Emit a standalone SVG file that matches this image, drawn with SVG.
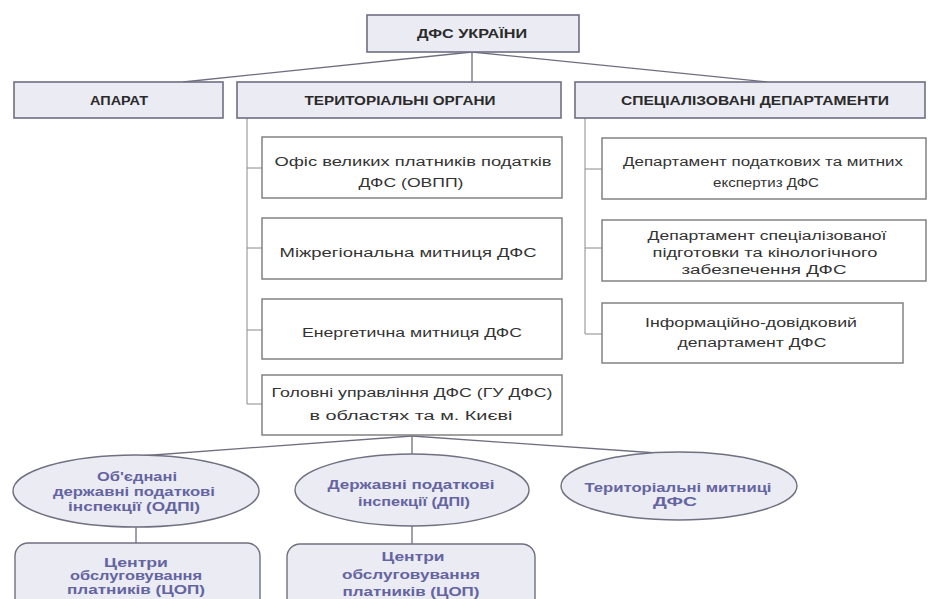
<svg xmlns="http://www.w3.org/2000/svg" width="928" height="599" viewBox="0 0 928 599">
<style>
text{font-family:"Liberation Sans",Arial,sans-serif;text-anchor:middle;}
.hd rect{fill:#ebebf3;stroke:#6e6e82;stroke-width:1.6;}
.hd text{font-size:12px;font-weight:bold;fill:#2a2a2a;}
.bx rect{fill:#ffffff;stroke:#7a7a7a;stroke-width:1.4;}
.bx text{font-size:12.5px;fill:#333333;}
.el ellipse,.el rect{fill:#ebebf3;stroke:#707080;stroke-width:1.4;}
.el text{font-size:12px;font-weight:bold;fill:#6464a0;}
.cn line{stroke:#6e6e80;stroke-width:1.3;}
.cn .tk{stroke:#8a8a8a;stroke-width:1;}
</style>
<g id="connectors" class="cn">
<line x1="472" y1="52" x2="183" y2="82"/>
<line x1="472" y1="52" x2="472" y2="82"/>
<line x1="472" y1="52" x2="767" y2="82"/>
<line class="tk" x1="247" y1="118" x2="247" y2="404"/>
<line class="tk" x1="247" y1="168" x2="262" y2="168"/>
<line class="tk" x1="247" y1="248" x2="262" y2="248"/>
<line class="tk" x1="247" y1="330" x2="262" y2="330"/>
<line class="tk" x1="247" y1="404" x2="262" y2="404"/>
<line class="tk" x1="585" y1="118" x2="585" y2="334"/>
<line class="tk" x1="585" y1="169" x2="602" y2="169"/>
<line class="tk" x1="585" y1="248" x2="602" y2="248"/>
<line class="tk" x1="585" y1="334" x2="602" y2="334"/>
<line x1="412" y1="436" x2="140" y2="456"/>
<line x1="412" y1="436" x2="412" y2="455"/>
<line x1="412" y1="436" x2="657" y2="453"/>
<line x1="136" y1="527" x2="136" y2="543"/>
<line x1="412" y1="526" x2="412" y2="544"/>
</g>
<g id="n-dfs" class="hd"><rect x="367" y="15" width="212" height="37"/><text x="472" y="38" textLength="110" lengthAdjust="spacingAndGlyphs">ДФС УКРАЇНИ</text></g>
<g id="n-aparat" class="hd"><rect x="14" y="82" width="209" height="36"/><text x="119" y="105" textLength="58" lengthAdjust="spacingAndGlyphs">АПАРАТ</text></g>
<g id="n-terr" class="hd"><rect x="237" y="82" width="324" height="36"/><text x="400" y="105" textLength="191" lengthAdjust="spacingAndGlyphs">ТЕРИТОРІАЛЬНІ ОРГАНИ</text></g>
<g id="n-spec" class="hd"><rect x="575" y="82" width="350" height="36"/><text x="755" y="105" textLength="268" lengthAdjust="spacingAndGlyphs">СПЕЦІАЛІЗОВАНІ ДЕПАРТАМЕНТИ</text></g>

<g id="n-ovpp" class="bx"><rect x="262" y="137" width="300" height="61"/><text x="413" y="166" textLength="277" lengthAdjust="spacingAndGlyphs">Офіс великих платників податків</text><text x="411" y="187" textLength="105" lengthAdjust="spacingAndGlyphs">ДФС (ОВПП)</text></g>
<g id="n-mizh" class="bx"><rect x="262" y="218" width="300" height="61"/><text x="408" y="257" textLength="257" lengthAdjust="spacingAndGlyphs">Міжрегіональна митниця ДФС</text></g>
<g id="n-energ" class="bx"><rect x="262" y="299" width="300" height="60"/><text x="412" y="337" textLength="220" lengthAdjust="spacingAndGlyphs">Енергетична митниця ДФС</text></g>
<g id="n-gu" class="bx"><rect x="262" y="375" width="300" height="60"/><text x="412" y="397" textLength="281" lengthAdjust="spacingAndGlyphs">Головні управління ДФС (ГУ ДФС)</text><text x="411" y="420" textLength="203" lengthAdjust="spacingAndGlyphs">в областях та м. Києві</text></g>

<g id="n-exp" class="bx"><rect x="602" y="138" width="324" height="61"/><text x="763" y="166" textLength="280" lengthAdjust="spacingAndGlyphs">Департамент податкових та митних</text><text x="766" y="187" textLength="106" lengthAdjust="spacingAndGlyphs">експертиз ДФС</text></g>
<g id="n-kin" class="bx"><rect x="602" y="220" width="324" height="61"/><text x="767" y="240" textLength="239" lengthAdjust="spacingAndGlyphs">Департамент спеціалізованої</text><text x="765" y="257" textLength="225" lengthAdjust="spacingAndGlyphs">підготовки та кінологічного</text><text x="764" y="274" textLength="165" lengthAdjust="spacingAndGlyphs">забезпечення ДФС</text></g>
<g id="n-info" class="bx"><rect x="602" y="303" width="301" height="60"/><text x="751" y="327" textLength="212" lengthAdjust="spacingAndGlyphs">Інформаційно-довідковий</text><text x="752" y="347" textLength="149" lengthAdjust="spacingAndGlyphs">департамент ДФС</text></g>

<g id="n-odpi" class="el"><ellipse cx="136" cy="491" rx="123" ry="36"/><text x="137" y="481" textLength="80" lengthAdjust="spacingAndGlyphs">Об'єднані</text><text x="134" y="496" textLength="162" lengthAdjust="spacingAndGlyphs">державні податкові</text><text x="134" y="511" textLength="132" lengthAdjust="spacingAndGlyphs">інспекції (ОДПІ)</text></g>
<g id="n-dpi" class="el"><ellipse cx="412" cy="490" rx="117" ry="36"/><text x="411" y="489" textLength="167" lengthAdjust="spacingAndGlyphs">Державні податкові</text><text x="414" y="506" textLength="112" lengthAdjust="spacingAndGlyphs">інспекції (ДПІ)</text></g>
<g id="n-tm" class="el"><ellipse cx="679" cy="486" rx="118" ry="34"/><text x="678" y="492" textLength="187" lengthAdjust="spacingAndGlyphs">Територіальні митниці</text><text x="675" y="506" textLength="44" lengthAdjust="spacingAndGlyphs">ДФС</text></g>

<g id="n-cop1" class="el"><rect x="15" y="543" width="245" height="70" rx="13"/><text x="136" y="567" textLength="64" lengthAdjust="spacingAndGlyphs">Центри</text><text x="136" y="580" textLength="132" lengthAdjust="spacingAndGlyphs">обслуговування</text><text x="136" y="594" textLength="138" lengthAdjust="spacingAndGlyphs">платників (ЦОП)</text></g>
<g id="n-cop2" class="el"><rect x="287" y="544" width="248" height="70" rx="13"/><text x="413" y="561" textLength="63" lengthAdjust="spacingAndGlyphs">Центри</text><text x="411" y="579" textLength="138" lengthAdjust="spacingAndGlyphs">обслуговування</text><text x="411" y="596" textLength="137" lengthAdjust="spacingAndGlyphs">платників (ЦОП)</text></g>
</svg>
